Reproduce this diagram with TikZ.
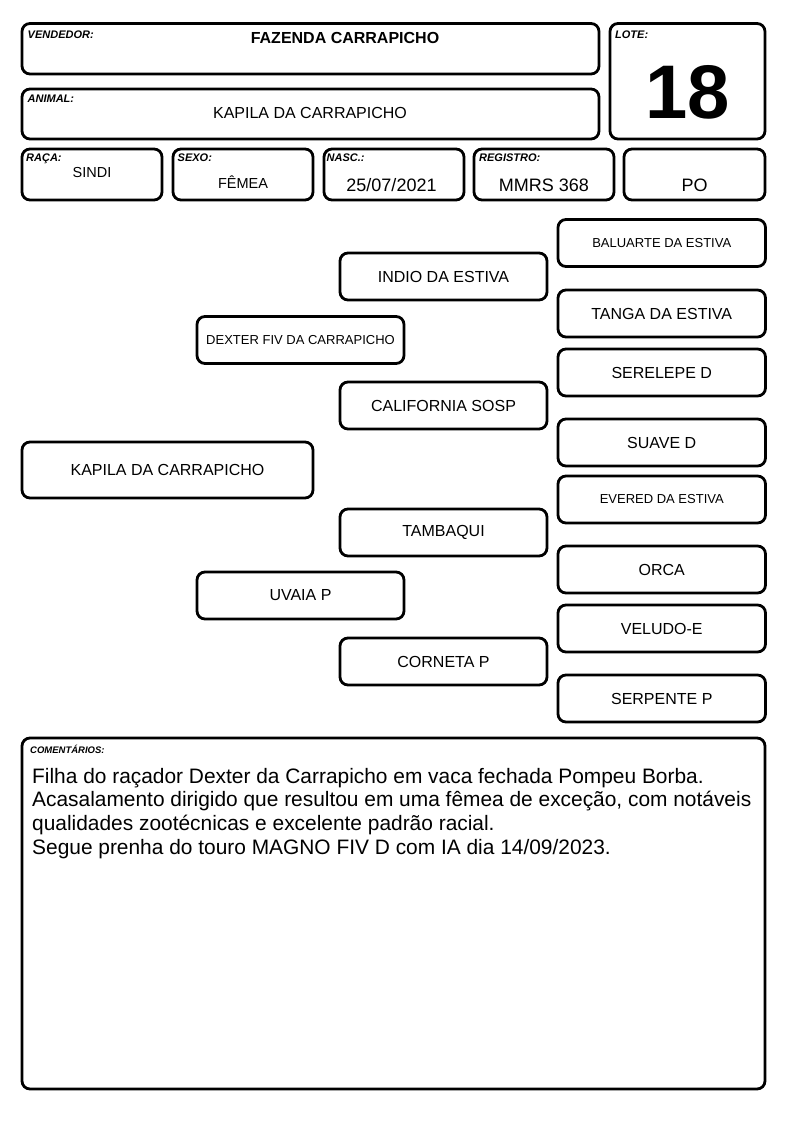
\documentclass[tikz,border=0pt]{standalone}
\usepackage{fontspec}
\setmainfont{Liberation Sans}
\newcommand\fs[1]{\fontsize{#1}{#1}\selectfont}
\newcommand\gbox[6]{%
  \node[gbox, minimum width={(#4-#2)*1pt}, minimum height={(#5-#3)*1pt}] (#1) at ({(#2+#4)/2},{(#3+#5)/2}) {#6};}
\begin{document}
\begin{tikzpicture}[x=1pt,y=-1pt,
  gbox/.style={draw=black, line width=2.8pt, rounded corners=8pt, inner sep=0pt, outer sep=0pt, fill=white},
  lbl/.style={anchor=base west, inner sep=0pt, font=\fs{11}\bfseries\itshape},
  val/.style={anchor=base, inner sep=0pt},
  ctext/.style={anchor=base west, inner sep=0pt, font=\fs{20.9}}]
\useasboundingbox[fill=white] (0,0) rectangle (794,1123);
% header boxes
\gbox{vend}{22}{23.5}{599}{74}{}
\gbox{anim}{22}{89}{599}{139}{}
\gbox{lote}{610}{23.5}{765}{139}{}
\gbox{raca}{22}{149}{162}{200}{}
\gbox{sexo}{173}{149}{313}{200}{}
\gbox{nasc}{324}{149}{464}{200}{}
\gbox{reg}{474}{149}{614}{200}{}
\gbox{po}{624}{149}{765}{200}{}
% labels
\node[lbl] (lvend) at (27.5,39) {VENDEDOR:};
\node[lbl] (lanim) at (27.5,102.5) {ANIMAL:};
\node[lbl] (llote) at (615,38.5) {LOTE:};
\node[lbl] (lraca) at (26,162) {RAÇA:};
\node[lbl] (lsexo) at (177.5,162) {SEXO:};
\node[lbl] (lnasc) at (326.5,162) {NASC.:};
\node[lbl] (lreg) at (479,162) {REGISTRO:};
% values
\node[val, font=\fs{16}\bfseries] (vvend) at (345,44) {FAZENDA CARRAPICHO};
\node[val, font=\fs{16}] (vanim) at (310,119) {KAPILA DA CARRAPICHO};
\node[val, font=\fs{76}\bfseries] (vlote) at (687.5,119) {18};
\node[val, font=\fs{14.5}] (vraca) at (92,178) {SINDI};
\node[val, font=\fs{14.5}] (vsexo) at (243,189) {FÊMEA};
\node[val, font=\fs{18}] (vnasc) at (391.5,192) {25/07/2021};
\node[val, font=\fs{18}] (vreg) at (544,192) {MMRS 368};
\node[val, font=\fs{18}] (vpo) at (694.5,192) {PO};
% pedigree
\gbox{p0}{22}{442}{313}{498}{\fs{16}KAPILA DA CARRAPICHO}
\gbox{p1}{197}{316.5}{404}{363.5}{\fs{13}DEXTER FIV DA CARRAPICHO}
\gbox{p2}{197}{572}{404}{619}{\fs{16}UVAIA P}
\gbox{p3}{340}{253}{547}{300}{\fs{16}INDIO DA ESTIVA}
\gbox{p4}{340}{382}{547}{429}{\fs{16}CALIFORNIA SOSP}
\gbox{p5}{340}{509}{547}{556}{\fs{16}TAMBAQUI}
\gbox{p6}{340}{638}{547}{685}{\fs{16}CORNETA P}
\gbox{p7}{558}{219.5}{765.5}{266.5}{\fs{13}BALUARTE DA ESTIVA}
\gbox{p8}{558}{290}{765.5}{337}{\fs{16}TANGA DA ESTIVA}
\gbox{p9}{558}{349}{765.5}{396}{\fs{16}SERELEPE D}
\gbox{p10}{558}{419}{765.5}{466}{\fs{16}SUAVE D}
\gbox{p11}{558}{476}{765.5}{523}{\fs{13}EVERED DA ESTIVA}
\gbox{p12}{558}{546}{765.5}{593}{\fs{16}ORCA}
\gbox{p13}{558}{605}{765.5}{652}{\fs{16}VELUDO-E}
\gbox{p14}{558}{675}{765.5}{722}{\fs{16}SERPENTE P}
% comments
\gbox{com}{22}{738}{765}{1089}{}
\node[lbl, font=\fs{9.5}\bfseries\itshape] (lcom) at (30,753) {COMENTÁRIOS:};
\node[ctext] (tcom1) at (32,783) {Filha do raçador Dexter da Carrapicho em vaca fechada Pompeu Borba.};
\node[ctext] (tcom2) at (32,806.7) {Acasalamento dirigido que resultou em uma fêmea de exceção, com notáveis};
\node[ctext] (tcom3) at (32,830.4) {qualidades zootécnicas e excelente padrão racial.};
\node[ctext] (tcom4) at (32,854.1) {Segue prenha do touro MAGNO FIV D com IA dia 14/09/2023.};
\end{tikzpicture}
\end{document}
